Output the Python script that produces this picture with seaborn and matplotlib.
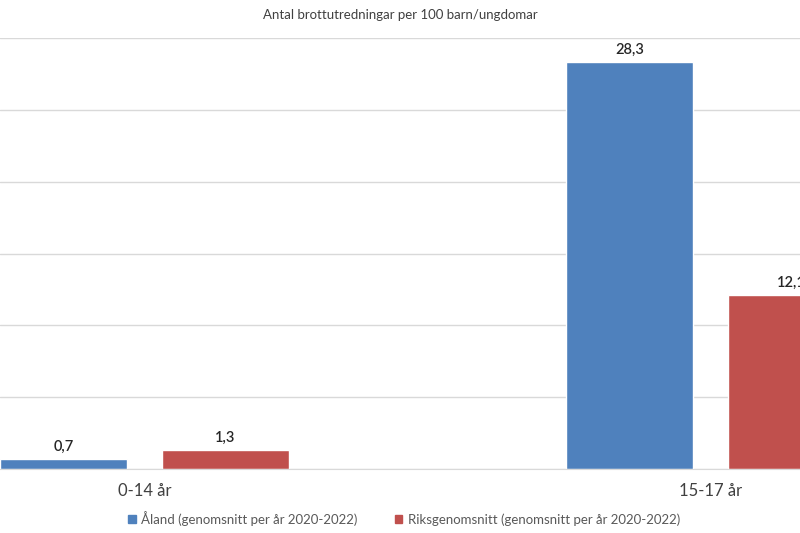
import pandas as pd
import numpy as np
import matplotlib.pyplot as plt
import seaborn as sns

# data
age_groups = ["0-14 år", "15-17 år"]
aland = [0.7, 28.3]
riks = [1.3, 12.1]
series_names = ["Åland (genomsnitt per år 2020-2022)",
                "Riksgenomsnitt (genomsnitt per år 2020-2022)"]
title = "Antal brottutredningar per 100 barn/ungdomar"

colors = ["#4F81BD", "#C0504D"]

data = pd.DataFrame({
    "age": age_groups * 2,
    "value": aland + riks,
    "serie": [series_names[0]] * 2 + [series_names[1]] * 2,
})

sns.set_style("white")
plt.rcParams["font.family"] = ["Lato", "DejaVu Sans"]

fig = plt.figure(figsize=(8, 5.33), dpi=100)
ax = fig.add_axes([0, 0.12, 1, 0.8086])

sns.barplot(data=data, x="age", y="value", hue="serie", palette=colors,
            width=0.572, gap=0.217, ax=ax, legend=False, saturation=1)

# value labels with decimal comma
for container in ax.containers:
    labels = [f"{b.get_height():.1f}".replace(".", ",") for b in container]
    ax.bar_label(container, labels=labels, padding=4, fontsize=10.5,
                 color="#262626", fontweight="semibold")

ax.set_ylim(0, 30)
ax.set_xlim(-0.255, 1.158)
ax.set_yticks(np.arange(0, 31, 5))
ax.set_yticklabels([])
ax.tick_params(axis="y", length=0)
ax.tick_params(axis="x", length=0, pad=10, labelsize=12, labelcolor="#404040")
ax.set_xlabel("")
ax.set_ylabel("")
ax.grid(axis="y", color="#D9D9D9", linewidth=1)
ax.set_axisbelow(True)
for side in ["top", "left", "right"]:
    ax.spines[side].set_visible(False)
ax.spines["bottom"].set_color("#D9D9D9")

fig.text(0.5, 0.972, title, ha="center", va="center", fontsize=9.5,
         color="#404040")

handles = [plt.Rectangle((0, 0), 1, 1, color=c) for c in colors]
fig.legend(handles, series_names, loc="center", bbox_to_anchor=(0.505, 0.028),
           ncol=2, frameon=False, fontsize=9.5, labelcolor="#595959",
           handlelength=0.6, handleheight=0.6, handletextpad=0.4,
           columnspacing=2.8)

fig.savefig("out.png", dpi=100)
